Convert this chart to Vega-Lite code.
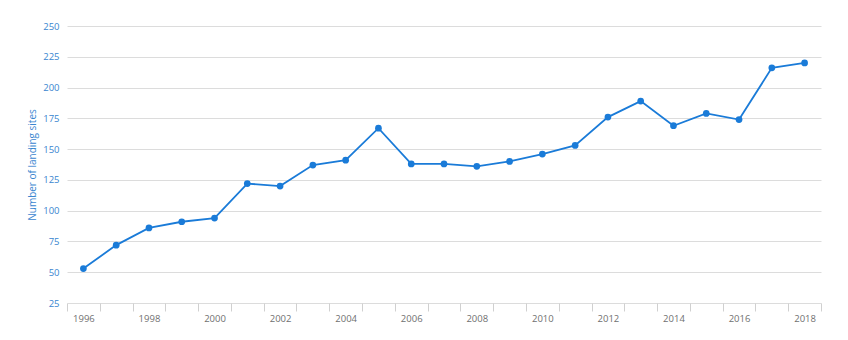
{
  "$schema": "https://vega.github.io/schema/vega-lite/v6.json",
  "width": 754,
  "height": 277,
  "autosize": "none",
  "padding": {"left": 67, "top": 26, "right": 27, "bottom": 37},
  "background": "white",
  "config": {
    "view": {"stroke": null},
    "font": "Open Sans"
  },
  "data": {
    "values": [
      {"year": 1996, "sites": 53},
      {"year": 1997, "sites": 72},
      {"year": 1998, "sites": 86},
      {"year": 1999, "sites": 91},
      {"year": 2000, "sites": 94},
      {"year": 2001, "sites": 122},
      {"year": 2002, "sites": 120},
      {"year": 2003, "sites": 137},
      {"year": 2004, "sites": 141},
      {"year": 2005, "sites": 167},
      {"year": 2006, "sites": 138},
      {"year": 2007, "sites": 138},
      {"year": 2008, "sites": 136},
      {"year": 2009, "sites": 140},
      {"year": 2010, "sites": 146},
      {"year": 2011, "sites": 153},
      {"year": 2012, "sites": 176},
      {"year": 2013, "sites": 189},
      {"year": 2014, "sites": 169},
      {"year": 2015, "sites": 179},
      {"year": 2016, "sites": 174},
      {"year": 2017, "sites": 216},
      {"year": 2018, "sites": 220}
    ]
  },
  "encoding": {
    "x": {
      "field": "year",
      "type": "ordinal",
      "scale": {"type": "band", "paddingInner": 0, "paddingOuter": 0},
      "axis": {
        "title": null,
        "labelAngle": 0,
        "labelExpr": "datum.value % 2 == 0 ? datum.label : ''",
        "tickBand": "extent",
        "domain": false,
        "tickColor": "#d0d0d0",
        "tickSize": 8,
        "labelColor": "#707070",
        "labelFontSize": 9.5,
        "labelPadding": 2
      }
    },
    "y": {
      "field": "sites",
      "type": "quantitative",
      "scale": {"domain": [25, 250], "nice": false, "zero": false},
      "axis": {
        "title": "Number of landing sites",
        "titleColor": "#3a86d0",
        "titleFontSize": 10,
        "titleFontWeight": "normal",
        "titlePadding": 5,
        "values": [25, 50, 75, 100, 125, 150, 175, 200, 225, 250],
        "labelColor": "#3a86d0",
        "labelFontSize": 9.5,
        "labelPadding": 8,
        "ticks": false,
        "domain": false,
        "gridColor": "#dcdcdc",
        "gridWidth": 1
      }
    }
  },
  "layer": [
    {"mark": {"type": "line", "color": "#1a7bd8", "strokeWidth": 1.8}},
    {"mark": {"type": "point", "filled": true, "color": "#1a7bd8", "size": 45, "opacity": 1}}
  ]
}
